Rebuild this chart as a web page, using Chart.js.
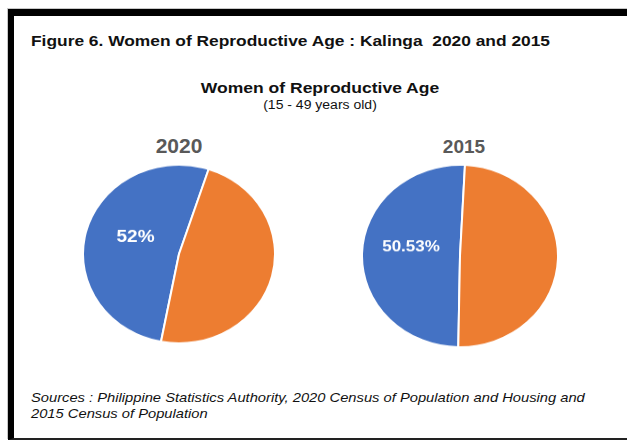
<!DOCTYPE html>
<html>
<head>
<meta charset="utf-8">
<script src="https://cdn.jsdelivr.net/npm/chart.js@4.4.0/dist/chart.umd.min.js"></script>
<style>
  html, body { margin: 0; padding: 0; background: #fff; }
  body { width: 627px; height: 441px; position: relative; overflow: hidden;
         font-family: Arial, "Liberation Sans", sans-serif; color: #111; }
  .frame { position: absolute; left: 8px; top: 9px; width: 640px; height: 422px;
           border-left: 6px solid #000; border-top: 7px solid #000; border-bottom: 2px solid #222;
           box-shadow: -1px -1px 0 #c8c8c8; }
  .txt { position: absolute; white-space: nowrap; }
  .fig-title { left: 31px; top: 33px; font-size: 15.5px; line-height: 15.5px; font-weight: bold;
               transform: scaleX(1.12); transform-origin: left center; }
  .chart-title { left: 0; width: 640px; text-align: center; top: 80px; font-size: 15.5px; line-height: 15.5px; font-weight: bold;
                 transform: scaleX(1.13); transform-origin: 320px center; }
  .chart-sub { left: 0; width: 640px; text-align: center; top: 99px; font-size: 12.5px; line-height: 12.5px;
               transform: scaleX(1.12); transform-origin: 320px center; }
  .year { font-weight: bold; color: #595959; text-align: center; width: 100px; }
  .source { left: 31px; font-size: 13.5px; line-height: 13.5px; font-style: italic;
            transform: scaleX(1.09); transform-origin: left center; }
  .pie { position: absolute; transform: scaleY(0.93); transform-origin: center center; }
</style>
</head>
<body>
<div class="frame"></div>
<div class="txt fig-title">Figure 6. Women of Reproductive Age : Kalinga&nbsp; 2020 and 2015</div>
<div class="txt chart-title">Women of Reproductive Age</div>
<div class="txt chart-sub">(15 - 49 years old)</div>
<div class="txt year" id="year0" style="left:129px; top:135px; font-size:21px; line-height:21px;"></div>
<div class="txt year" id="year1" style="left:414px; top:137px; font-size:19px; line-height:19px;"></div>
<div class="pie" style="left:82px; top:157px; width:194px; height:194px;"><canvas id="pie2020" width="194" height="194"></canvas></div>
<div class="pie" style="left:361px; top:157px; width:198px; height:198px;"><canvas id="pie2015" width="198" height="198"></canvas></div>
<div class="txt source" style="top:391px;">Sources : Philippine Statistics Authority, 2020 Census of Population and Housing and</div>
<div class="txt source" style="top:407px;">2015 Census of Population</div>

<script>
// Chart data
const years = ['2020', '2015'];
const segments = ['Women 15 - 49 years old', 'Others'];
const share2020 = [52, 48];
const share2015 = [50.53, 49.47];
const shareLabels = ['52%', '50.53%'];
const sliceColors = ['#4472C4', '#ED7D31'];

document.getElementById('year0').textContent = years[0];
document.getElementById('year1').textContent = years[1];

// Draw the percentage on the blue slice only
const sliceLabel = {
    id: 'sliceLabel',
    afterDatasetsDraw(chart, args, opts) {
        const arc = chart.getDatasetMeta(0).data[0];
        const pos = arc.tooltipPosition();
        const ctx = chart.ctx;
        ctx.save();
        ctx.fillStyle = '#fff';
        ctx.font = 'bold ' + opts.size + 'px Arial, "Liberation Sans", sans-serif';
        ctx.textAlign = 'center';
        ctx.textBaseline = 'middle';
        ctx.fillText(opts.text, pos.x + opts.dx, pos.y + opts.dy);
        ctx.restore();
    }
};

function makePie(id, values, rotation, label, size, dx, dy) {
    new Chart(document.getElementById(id), {
        type: 'pie',
        data: {
            labels: segments,
            datasets: [{
                data: values,
                backgroundColor: sliceColors,
                borderColor: '#fff',
                borderWidth: 2
            }]
        },
        options: {
            responsive: false,
            animation: false,
            rotation: rotation,
            layout: { padding: 0 },
            plugins: {
                legend: { display: false },
                tooltip: { enabled: false },
                sliceLabel: { text: label, size: size, dx: dx, dy: dy }
            }
        },
        plugins: [sliceLabel]
    });
}

makePie('pie2020', share2020, 190.8, shareLabels[0], 19, 3, -6);
makePie('pie2015', share2015, 181, shareLabels[1], 17, 0, -8);
</script>
</body>
</html>
